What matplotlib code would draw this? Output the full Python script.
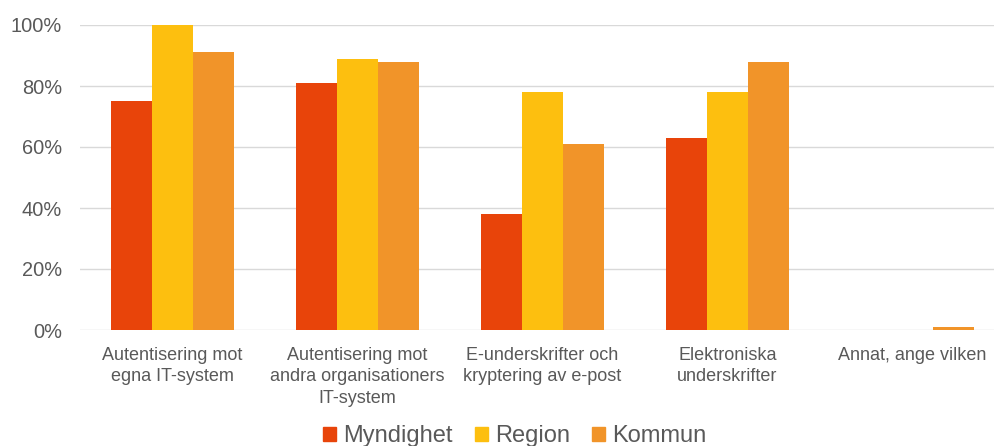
import matplotlib.pyplot as plt
from matplotlib.patches import Patch
from matplotlib.ticker import PercentFormatter
import numpy as np

plt.rcParams['font.family'] = ['Liberation Sans', 'DejaVu Sans']

categories = ["Autentisering mot\negna IT-system",
              "Autentisering mot\nandra organisationers\nIT-system",
              "E-underskrifter och\nkryptering av e-post",
              "Elektroniska\nunderskrifter",
              "Annat, ange vilken"]
series_names = ["Myndighet", "Region", "Kommun"]
myndighet = [75, 81, 38, 63, 0]
region = [100, 89, 78, 78, 0]
kommun = [91, 88, 61, 88, 1]
colors = ["#E8440A", "#FDBF0F", "#F19429"]

text_col = "#595959"

fig = plt.figure(figsize=(9.94, 4.46), dpi=100)
ax = fig.add_axes([80 / 994, 116 / 446, 925 / 994, 305 / 446])

x = np.arange(len(categories))
w = 0.222
for i, (vals, col) in enumerate(zip([myndighet, region, kommun], colors)):
    ax.bar(x + (i - 1) * w, vals, width=w, color=col, zorder=3)

ax.set_xlim(-0.5, len(categories) - 0.5)
ax.set_ylim(0, 100)
ax.set_yticks(np.arange(0, 101, 20))
ax.yaxis.set_major_formatter(PercentFormatter(decimals=0))
ax.grid(axis='y', color='#D9D9D9', lw=1, zorder=0)
for s in ax.spines.values():
    s.set_visible(False)
ax.set_xticks(x)
ax.set_xticklabels(categories, fontsize=13, color=text_col, linespacing=1.35)
ax.tick_params(axis='x', length=0, pad=12)
ax.tick_params(axis='y', length=0, pad=13, labelsize=14.4, labelcolor=text_col)

handles = [Patch(color=c, label=n) for c, n in zip(colors, series_names)]
fig.legend(handles=handles, loc='lower center', bbox_to_anchor=(0.518, -0.05),
           ncol=3, frameon=False, fontsize=17, labelcolor=text_col,
           handlelength=0.55, handleheight=0.55, handletextpad=0.3,
           columnspacing=0.95)

fig.savefig("out.png", dpi=100)
